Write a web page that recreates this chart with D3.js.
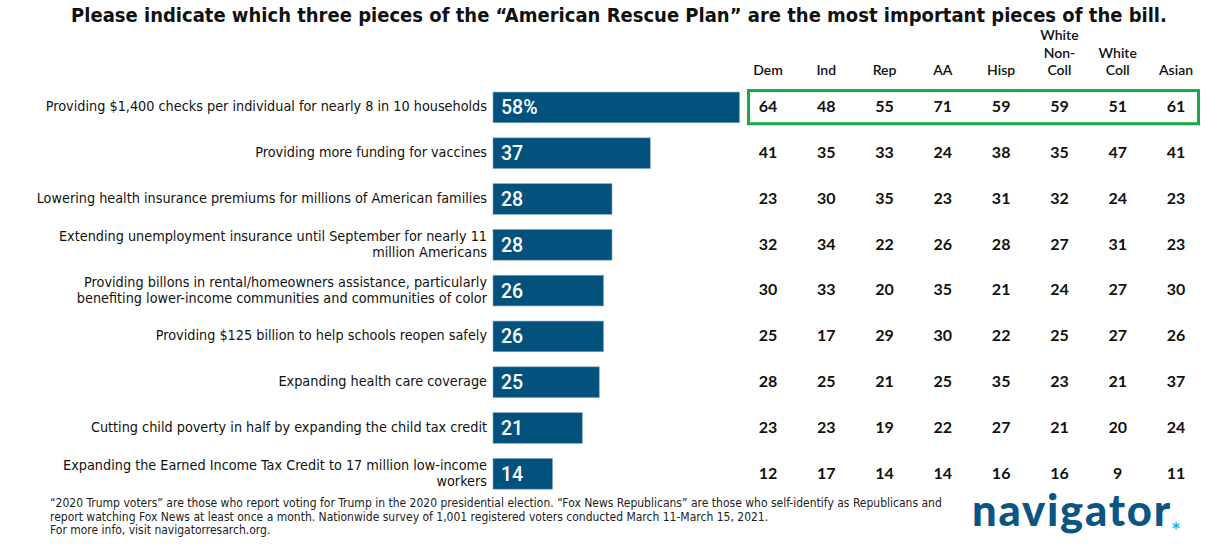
<!DOCTYPE html>
<html>
<head>
<meta charset="utf-8">
<script src="https://cdn.jsdelivr.net/npm/d3@7.9.0/dist/d3.min.js"></script>
<style>
  body { margin: 0; background: #fff; }
  svg { display: block; }
  .cond { font-family: "Liberation Sans Narrow", "DejaVu Sans Condensed", "Arial Narrow", "Roboto", sans-serif; }
</style>
</head>
<body>
<svg width="1222" height="557"></svg>
<script>
const title = "Please indicate which three pieces of the \u201cAmerican Rescue Plan\u201d are the most important pieces of the bill.";

const items = [
  ["Providing $1,400 checks per individual for nearly 8 in 10 households"],
  ["Providing more funding for vaccines"],
  ["Lowering health insurance premiums for millions of American families"],
  ["Extending unemployment insurance until September for nearly 11", "million Americans"],
  ["Providing billons in rental/homeowners assistance, particularly", "benefiting lower-income communities and communities of color"],
  ["Providing $125 billion to help schools reopen safely"],
  ["Expanding health care coverage"],
  ["Cutting child poverty in half by expanding the child tax credit"],
  ["Expanding the Earned Income Tax Credit to 17 million low-income", "workers"]
];
const totals = [58, 37, 28, 28, 26, 26, 25, 21, 14];

const groups = ["Dem", "Ind", "Rep", "AA", "Hisp", "White Non-Coll", "White Coll", "Asian"];
const groupHeaders = [["Dem"], ["Ind"], ["Rep"], ["AA"], ["Hisp"], ["White", "Non-", "Coll"], ["White", "Coll"], ["Asian"]];

const dem   = [64, 41, 23, 32, 30, 25, 28, 23, 12];
const ind   = [48, 35, 30, 34, 33, 17, 25, 23, 17];
const rep   = [55, 33, 35, 22, 20, 29, 21, 19, 14];
const aa    = [71, 24, 23, 26, 35, 30, 25, 22, 14];
const hisp  = [59, 38, 31, 28, 21, 22, 35, 27, 16];
const wnc   = [59, 35, 32, 27, 24, 25, 23, 21, 16];
const wc    = [51, 47, 24, 31, 27, 27, 21, 20, 9];
const asian = [61, 41, 23, 23, 30, 26, 37, 24, 11];
const groupValues = [dem, ind, rep, aa, hisp, wnc, wc, asian];

const footnote = [
  "\u201c2020 Trump voters\u201d are those who report voting for Trump in the 2020 presidential election. \u201cFox News Republicans\u201d are those who self-identify as Republicans and",
  "report watching Fox News at least once a month. Nationwide survey of 1,001 registered voters conducted March 11-March 15, 2021.",
  "For more info, visit navigatorresarch.org."
];

const barColor = "#02527d";
const svg = d3.select("svg");

// title
svg.append("text")
  .attr("class", "cond")
  .attr("x", 619).attr("y", 22)
  .attr("text-anchor", "middle")
  .attr("font-size", 20).attr("font-weight", "bold")
  .attr("fill", "#111")
  .text(title);

const rowIdx = d3.range(items.length);
const y = d3.scaleBand()
  .domain(rowIdx)
  .range([84.5, 496.7])
  .paddingInner(0.33)
  .paddingOuter(0.165);

const x = d3.scaleLinear().domain([0, 58]).range([493, 739.5]);

const col = d3.scalePoint().domain(groups).range([768, 1176]);

// bars
const rows = svg.append("g").selectAll("g")
  .data(rowIdx)
  .join("g");

rows.append("rect")
  .attr("x", x(0))
  .attr("y", i => y(i))
  .attr("width", i => x(totals[i]) - x(0))
  .attr("height", y.bandwidth())
  .attr("fill", barColor)
  .attr("stroke", "#7fa6bf")
  .attr("stroke-width", 0.6);

rows.append("text")
  .attr("x", x(0) + 8)
  .attr("y", i => y(i) + y.bandwidth() / 2)
  .attr("dy", "0.36em")
  .attr("font-family", "Roboto, sans-serif")
  .attr("font-weight", 500)
  .attr("font-size", 19.5)
  .attr("fill", "#fff")
  .text((i) => i === 0 ? totals[i] + "%" : totals[i]);

// row labels
rows.append("text")
  .attr("class", "cond")
  .attr("text-anchor", "end")
  .attr("font-size", 14.3)
  .attr("fill", "#111")
  .each(function (i) {
    const lines = items[i];
    const cy = y(i) + y.bandwidth() / 2 - 1;
    d3.select(this).selectAll("tspan")
      .data(lines)
      .join("tspan")
      .attr("x", 487)
      .attr("y", (d, k) => cy + (k - (lines.length - 1) / 2) * 16)
      .attr("dy", "0.35em")
      .text(d => d);
  });

// group headers
svg.append("g").selectAll("text")
  .data(groups)
  .join("text")
  .attr("font-family", "Lato, sans-serif")
  .attr("font-size", 14)
  .attr("font-weight", 600)
  .attr("text-anchor", "middle")
  .attr("fill", "#111")
  .each(function (g, j) {
    const lines = groupHeaders[j];
    d3.select(this).selectAll("tspan")
      .data(lines)
      .join("tspan")
      .attr("x", col(g))
      .attr("y", (d, k) => 75 - (lines.length - 1 - k) * 17.5)
      .text(d => d);
  });

// group values
groups.forEach((g, j) => {
  svg.append("g").selectAll("text")
    .data(groupValues[j])
    .join("text")
    .attr("x", col(g))
    .attr("y", (v, i) => y(i) + y.bandwidth() / 2 - 1)
    .attr("dy", "0.36em")
    .attr("text-anchor", "middle")
    .attr("font-family", "Lato, sans-serif")
    .attr("font-weight", "bold")
    .attr("font-size", 16)
    .attr("fill", "#111")
    .text(v => v);
});

// highlight box around top row
svg.append("rect")
  .attr("x", 748.5)
  .attr("y", y(0) - 1.5)
  .attr("width", 450)
  .attr("height", y.bandwidth() + 2.5)
  .attr("fill", "none")
  .attr("stroke", "#1ba64b")
  .attr("stroke-width", 3);

// footnote
svg.append("g").selectAll("text")
  .data(footnote)
  .join("text")
  .attr("class", "cond")
  .attr("x", 50)
  .attr("y", (d, k) => 507 + k * 13.5)
  .attr("font-size", 12)
  .attr("fill", "#222")
  .text(d => d);

// logo
const logo = svg.append("text")
  .attr("x", 972).attr("y", 526)
  .attr("font-family", "Lato, sans-serif")
  .attr("font-weight", 900)
  .attr("font-size", 43.5)
  .attr("letter-spacing", 1.8)
  .attr("fill", "#0a5582")
  .text("navigator");

const logoEnd = 972 + logo.node().getComputedTextLength();

svg.append("text")
  .attr("x", logoEnd).attr("y", 534)
  .attr("font-family", "DejaVu Sans, sans-serif")
  .attr("font-weight", "bold")
  .attr("font-size", 15)
  .attr("fill", "#29a9e1")
  .text("*");
</script>
</body>
</html>
